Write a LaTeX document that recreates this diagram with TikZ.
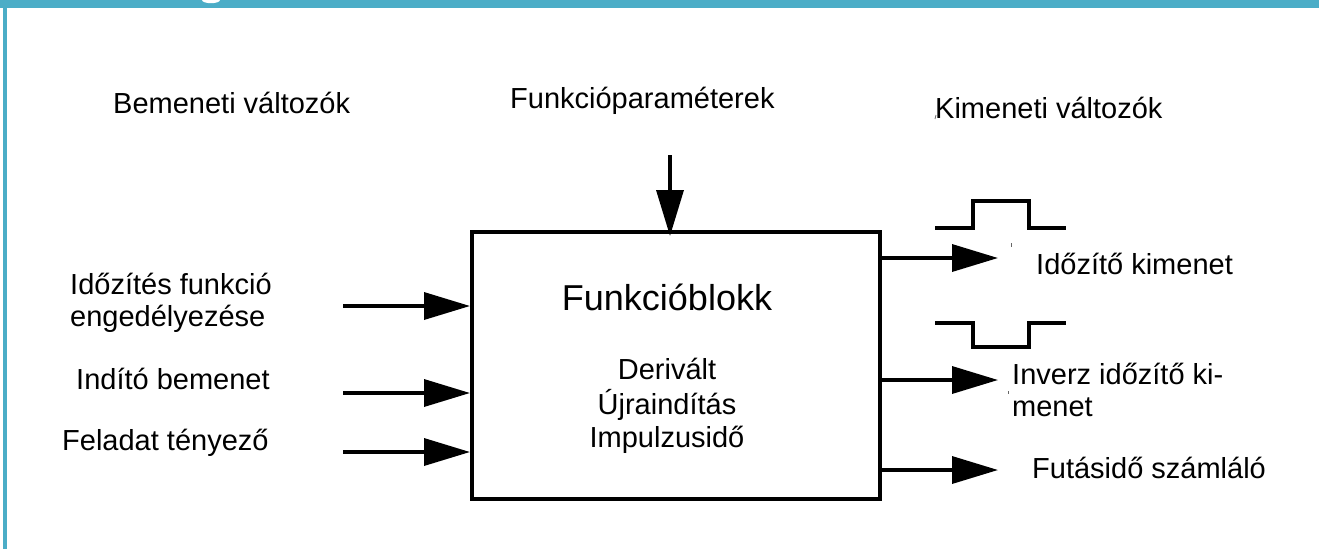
\documentclass[tikz,border=0pt]{standalone}
\usepackage{fontspec}
\setmainfont{Liberation Sans}
\usetikzlibrary{arrows.meta}
\definecolor{barcol}{RGB}{75,173,199}
\tikzset{
  lbl/.style={anchor=base west, inner sep=0pt, font=\fontsize{29}{34}\selectfont},
  ctr/.style={anchor=base, inner sep=0pt, font=\fontsize{29}{34}\selectfont},
  conn/.style={line width=3.5pt, -{Triangle[length=46pt,width=27pt]}},
  pulse/.style={line width=3.5pt},
  blockbox/.style={draw, line width=4pt, minimum width=408pt, minimum height=267pt, inner sep=0pt},
  tick/.style={line width=0.8pt, black!60}
}
\begin{document}
\begin{tikzpicture}[x=1pt,y=-1pt]
\useasboundingbox (0,0) rectangle (1319,550);
% frame
\fill[barcol] (0,0) rectangle (1319,8);
\fill[barcol] (3,0) rectangle (6.5,549);
\fill[white] (202,0) arc[start angle=180,end angle=360,x radius=9pt,y radius=3.2pt] -- cycle;

% block
\node[blockbox] (box) at (676,365.5) {};
\node[ctr, font=\fontsize{36}{42}\selectfont] (title) at (667,310) {Funkcióblokk};
\node[ctr] (p1) at (667,379) {Derivált};
\node[ctr] (p2) at (667,414) {Újraindítás};
\node[ctr] (p3) at (667,447) {Impulzusidő};

% headings
\node[lbl] (hin) at (113,113) {Bemeneti változók};
\node[lbl] (hpar) at (510,108) {Funkcióparaméterek};
\node[lbl] (hout) at (935,118) {Kimeneti változók};

% inputs
\node[lbl] (in1a) at (70,294) {Időzítés funkció};
\node[lbl] (in1b) at (70,326) {engedélyezése};
\node[lbl] (in2) at (76,389) {Indító bemenet};
\node[lbl] (in3) at (62,450) {Feladat tényező};

\coordinate (s1) at (343,306);
\coordinate (s2) at (343,393);
\coordinate (s3) at (343,452);
\draw[conn] (s1) -- (s1 -| box.west);
\draw[conn] (s2) -- (s2 -| box.west);
\draw[conn] (s3) -- (s3 -| box.west);

% parameter arrow
\coordinate (ps) at (670,155);
\draw[conn] (ps) -- (670,236);

% outputs
\coordinate (o1) at (998,258);
\coordinate (o2) at (998,380);
\coordinate (o3) at (998,470);
\draw[conn] (box.east |- o1) -- (o1);
\draw[conn] (box.east |- o2) -- (o2);
\draw[conn] (box.east |- o3) -- (o3);

\node[lbl] (out1) at (1036,274) {Időzítő kimenet};
\node[lbl] (out2a) at (1012,384) {Inverz időzítő ki-};
\node[lbl] (out2b) at (1012,416) {menet};
\node[lbl] (out3) at (1032,478) {Futásidő számláló};

% pulses
\draw[pulse] (935,228) -- (973,228) -- (973,201) -- (1029,201) -- (1029,228) -- (1066,228);
\draw[pulse] (935,323) -- (973,323) -- (973,347) -- (1029,347) -- (1029,323) -- (1066,323);

% small marks
\draw[tick] (1011,243) -- (1011,247);
\draw[tick] (1008,391) -- (1008,394);
\draw[tick] (936,115) -- (935,119);
\end{tikzpicture}
\end{document}
